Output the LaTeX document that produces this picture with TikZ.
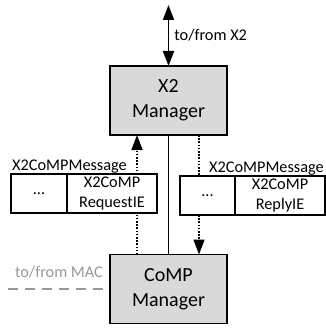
\documentclass[tikz,border=0pt]{standalone}
\usepackage{fontspec}
\setmainfont{Carlito}
\usetikzlibrary{arrows.meta,positioning}

\begin{document}
\begin{tikzpicture}[x=1pt, y=-1pt,
  mgr/.style={draw, line width=1.6pt, fill=black!15, minimum width=117pt, minimum height=69pt,
    align=center, outer sep=0pt, font=\fontsize{20}{25}\selectfont},
  cell/.style={draw, line width=1.6pt, fill=white, minimum height=39pt, inner sep=0pt,
    align=center, outer sep=0pt, font=\fontsize{16.3}{19.5}\selectfont},
  lbl/.style={inner sep=1pt, font=\fontsize{16.3}{18}\selectfont},
  tip/.style={-{Triangle[length=15pt,width=11pt]}},
  dotline/.style={line width=1.6pt, dash pattern=on 1.6pt off 1.6pt},
  macline/.style={gray!80, line width=1.3pt, dash pattern=on 10pt off 7pt}]
\useasboundingbox (0,0) rectangle (326,329);

	\node[mgr] (x2) at (168.5,100.5) {X2\\Manager};
	\node[mgr] (comp) at (168.5,289) {CoMP\\Manager};

	\coordinate (x2ext) at (168.5,5);
	\draw[line width=1.8pt, {Triangle[length=15pt,width=11pt]}-{Triangle[length=15pt,width=11pt]}]
		(x2ext) -- (x2.north) node[midway, right, lbl, inner sep=5pt] {to/from X2};

	\draw[dotline, tip] ([xshift=-31.5pt]comp.north) -- ([xshift=-31.5pt]x2.south);
	\draw[line width=1.6pt] (x2.south) -- (comp.north);
	\draw[dotline, tip] ([xshift=30.5pt]x2.south) -- ([xshift=30.5pt]comp.north);

	% request message
	\node[cell, minimum width=56pt] (reqdots) at (39,193.5) {...};
	\node[cell, minimum width=90pt, right=0pt of reqdots] (reqie) {X2CoMP\\RequestIE};
	\node[lbl, anchor=south west] at (reqdots.north west) {X2CoMPMessage};

	% reply message
	\node[cell, minimum width=55pt] (repdots) at (207.5,195.5) {...};
	\node[cell, minimum width=90pt, right=0pt of repdots] (repie) {X2CoMP\\ReplyIE};
	\node[lbl, anchor=south east] at (repie.north east) {X2CoMPMessage};

	\coordinate (macext) at (8,289);
	\draw[macline] (macext) -- (comp.west);
	\node[lbl, gray!80] (mac) at (59,272) {to/from MAC};
\end{tikzpicture}
\end{document}
